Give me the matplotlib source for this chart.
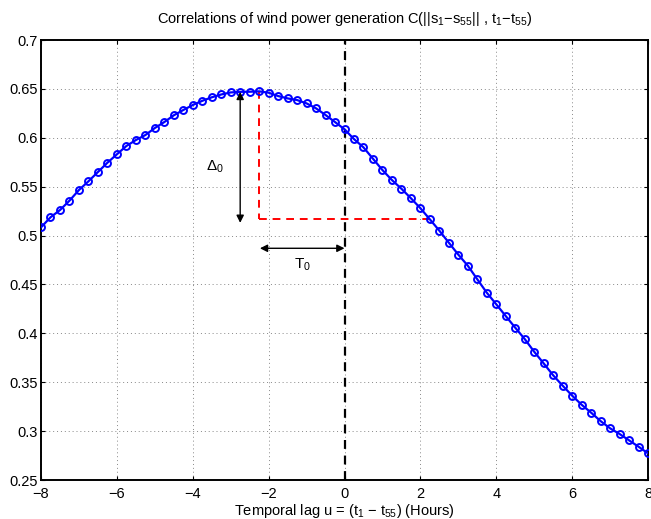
import matplotlib
matplotlib.use("Agg")
import matplotlib.pyplot as plt
import numpy as np

plt.rcParams['font.family'] = ['Liberation Sans', 'DejaVu Sans']
plt.rcParams['mathtext.fontset'] = 'custom'
plt.rcParams['mathtext.rm'] = 'Liberation Sans'
plt.rcParams['mathtext.it'] = 'Liberation Sans'
plt.rcParams['mathtext.sf'] = 'Liberation Sans'

# temporal lag in hours, step 0.25
lag = np.arange(-8, 8.001, 0.25)
corr = [0.5084, 0.5187, 0.5261, 0.5357, 0.5466, 0.5555, 0.5650, 0.5745,
        0.5831, 0.5916, 0.5977, 0.6028, 0.6100, 0.6161, 0.6230, 0.6284,
        0.6335, 0.6378, 0.6414, 0.6443, 0.6464, 0.6470, 0.6471, 0.6475,
        0.6461, 0.6427, 0.6403, 0.6386, 0.6352, 0.6301, 0.6233, 0.6161,
        0.6087, 0.5987, 0.5902, 0.5786, 0.5670, 0.5568, 0.5479, 0.5382,
        0.5280, 0.5166, 0.5050, 0.4927, 0.4805, 0.4692, 0.4553, 0.4416,
        0.4297, 0.4177, 0.4058, 0.3942, 0.3812, 0.3693, 0.3571, 0.3465,
        0.3363, 0.3270, 0.3189, 0.3103, 0.3029, 0.2971, 0.2906, 0.2841,
        0.2773]

peak_lag = -2.25
peak_val = 0.6475
level = 0.517
cross_lag = 2.25

fig = plt.figure(figsize=(6.51, 5.19), dpi=100)
ax = fig.add_axes([0.063, 0.0751, 0.9324, 0.8478])

ax.plot(lag, corr, '-o', color='#0000ff', lw=1.6, ms=5, mfc='none', mew=1.4, zorder=3)

# red dashed guide lines
ax.plot([peak_lag, peak_lag], [peak_val, level], '--', color='red', lw=1.4,
        dashes=(4, 3), zorder=2)
ax.plot([peak_lag, cross_lag], [level, level], '--', color='red', lw=1.4,
        dashes=(4, 3), zorder=2)
# zero lag line
ax.axvline(0, color='black', lw=1.6, dashes=(4, 3), zorder=2)

# arrows
ax.annotate('', xy=(-2.75, 0.647), xytext=(-2.75, 0.513),
            arrowprops=dict(arrowstyle='<|-|>', color='black', lw=1,
                            mutation_scale=11, shrinkA=0, shrinkB=0))
ax.annotate('', xy=(-2.23, 0.487), xytext=(0.0, 0.487),
            arrowprops=dict(arrowstyle='<|-|>', color='black', lw=1,
                            mutation_scale=11, shrinkA=0, shrinkB=0))
ax.text(-3.42, 0.570, r'$\Delta_0$', fontsize=11, ha='center', va='center')
ax.text(-1.1, 0.470, r'T$_0$', fontsize=11, ha='center', va='center')

ax.set_xlim(-8, 8)
ax.set_ylim(0.25, 0.7)
ax.set_xticks(np.arange(-8, 9, 2))
ax.set_yticks(np.arange(0.25, 0.701, 0.05))
ax.set_xticklabels(['\u22128', '\u22126', '\u22124', '\u22122', '0', '2', '4', '6', '8'])
ax.set_yticklabels(['0.25', '0.3', '0.35', '0.4', '0.45', '0.5', '0.55', '0.6', '0.65', '0.7'])
ax.tick_params(direction='in', labelsize=10.5, length=3, width=0.8, pad=2,
               top=True, right=True)
ax.tick_params(axis='x', pad=5)
ax.grid(True, color='#888888', lw=0.7, dashes=(1, 3))
for s in ax.spines.values():
    s.set_linewidth(1.4)

ax.set_title(r'Correlations of wind power generation C(||s$_1$$-$s$_{55}$|| , t$_1$$-$t$_{55}$)',
             fontsize=10.5, pad=12)
ax.set_xlabel(r'Temporal lag u = (t$_1$ $-$ t$_{55}$) (Hours)', fontsize=10.5, labelpad=1)

fig.savefig('out.png', dpi=100)
